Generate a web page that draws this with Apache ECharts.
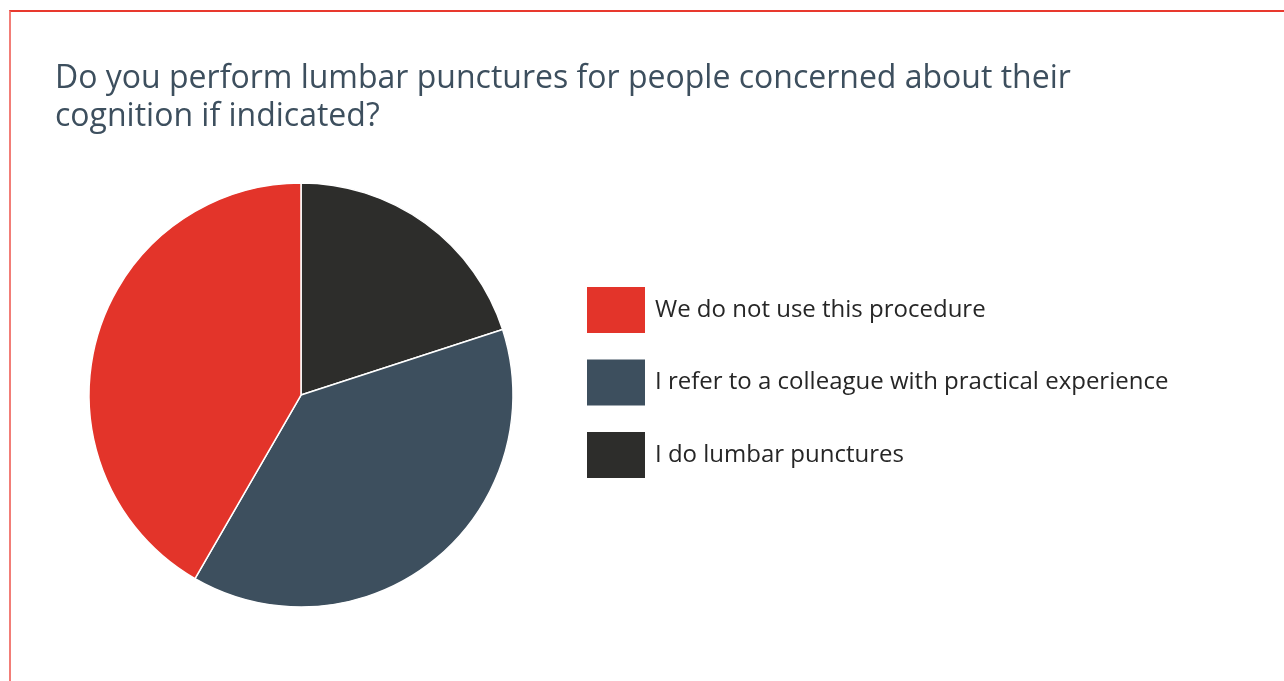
<!DOCTYPE html>
<html>
<head>
<meta charset="utf-8">
<script src="https://cdn.jsdelivr.net/npm/echarts@6/dist/echarts.min.js"></script>
<style>
  html, body { margin: 0; padding: 0; background: #fff; }
  #frame {
    position: absolute; left: 9px; top: 10px; right: -10px; bottom: -10px;
    border-top: 2px solid #e8392e; border-left: 2px solid #f27d77;
  }
  #chart { position: absolute; left: 0; top: 0; width: 1284px; height: 681px; }
</style>
</head>
<body>
<div id="frame"></div>
<div id="chart"></div>
<script>
// answers, in clockwise order from 12 o'clock
var categories = [
  "I do lumbar punctures",
  "I refer to a colleague with practical experience",
  "We do not use this procedure"
];
var counts = [12, 23, 25];
var colors = ["#2d2d2b", "#3d4f5e", "#e3342a"];
// legend lists them the other way round
var legendOrder = [
  "We do not use this procedure",
  "I refer to a colleague with practical experience",
  "I do lumbar punctures"
];

var chart = echarts.init(document.getElementById("chart"));

var pieData = [];
for (var i = 0; i < categories.length; i++) {
  pieData.push({
    name: categories[i],
    value: counts[i],
    itemStyle: { color: colors[i] }
  });
}

var option = {
  backgroundColor: "transparent",
  animation: false,
  title: {
    text: "Do you perform lumbar punctures for people concerned about their\ncognition if indicated?",
    left: 55,
    top: 60,
    padding: 0,
    textStyle: {
      fontFamily: "Open Sans",
      fontWeight: "normal",
      fontSize: 32,
      lineHeight: 38,
      color: "#3d4f5e"
    }
  },
  legend: {
    orient: "vertical",
    left: 585,
    top: 285,
    padding: 0,
    data: legendOrder,
    itemWidth: 60,
    itemHeight: 48,
    itemGap: 22.5,
    icon: "rect",
    textStyle: {
      fontFamily: "Open Sans",
      fontSize: 24,
      color: "#262626",
      padding: [0, 0, 0, 4]
    },
    selectedMode: false
  },
  series: [
    {
      type: "pie",
      center: [301, 395],
      radius: [0, 212],
      startAngle: 90,
      clockwise: true,
      label: { show: false },
      labelLine: { show: false },
      itemStyle: { borderColor: "#fff", borderWidth: 1.5 },
      emphasis: { disabled: true },
      data: pieData
    }
  ]
};

chart.setOption(option);
</script>
</body>
</html>
